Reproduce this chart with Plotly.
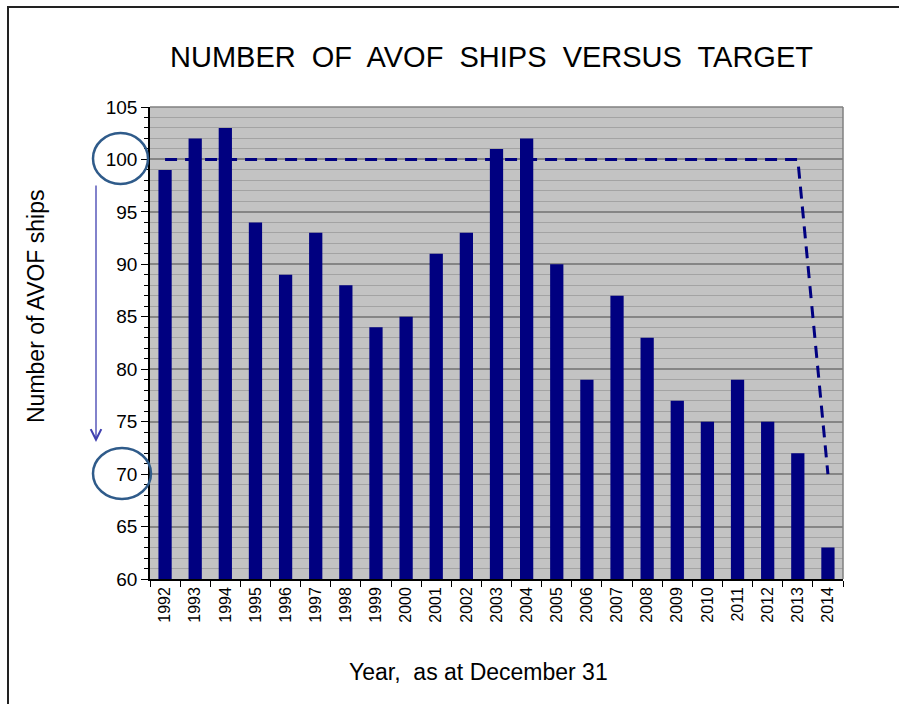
import plotly.graph_objects as go

years = [str(y) for y in range(1992, 2015)]
ships = [99, 102, 103, 94, 89, 93, 88, 84, 85, 91, 93, 101, 102, 90, 79, 87, 83, 77, 75, 79, 75, 72, 63]
target = [100] * 22 + [70]

W, H = 899, 704
L, R, T, B = 150, 843, 107, 579


def px(x):
    return (x - L) / (R - L)


def py(y):
    return (B - y) / (B - T)


fig = go.Figure()
fig.add_trace(go.Bar(x=years, y=ships, marker=dict(color="#000080", line=dict(width=0)),
                     showlegend=False, hoverinfo="x+y"))
fig.add_trace(go.Scatter(x=years, y=target, mode="lines",
                         line=dict(color="#000080", width=3, dash="12px,8px"),
                         showlegend=False))

font = "Liberation Sans, Arial, sans-serif"
fig.update_layout(
    width=W, height=H,
    margin=dict(l=L, r=W - R, t=T, b=H - B),
    paper_bgcolor="white",
    plot_bgcolor="#c3c3c3",
    bargap=0.56,
    font=dict(family=font, color="black"),
    title=dict(text="NUMBER  OF  AVOF  SHIPS  VERSUS  TARGET".replace("  ", "\u00a0 "),
               x=491.5 / W, xanchor="center", y=1 - 57 / H, yanchor="middle",
               font=dict(size=29, family=font, color="black")),
    xaxis=dict(type="category", showgrid=False, showline=True, linecolor="black", linewidth=1.5,
               ticks="outside", ticklen=6, tickcolor="black", tickson="boundaries",
               tickangle=-90, tickfont=dict(size=16, family=font, color="black"),
               zeroline=False),
    yaxis=dict(range=[60, 105], dtick=5, tick0=60, showline=True, linecolor="black", linewidth=1.5,
               ticks="outside", ticklen=7, tickcolor="black",
               tickfont=dict(size=19, family=font, color="black"),
               showgrid=True, gridcolor="#858585", gridwidth=1.5, zeroline=False,
               minor=dict(dtick=1, ticks="outside", ticklen=4, tickcolor="black",
                          showgrid=True, gridcolor="#a3a3a3", gridwidth=1)),
)

# plot-area border on top and right
fig.add_shape(type="line", xref="paper", yref="paper", x0=0, x1=1, y0=1, y1=1,
              line=dict(color="#808080", width=1.5))
fig.add_shape(type="line", xref="paper", yref="paper", x0=1, x1=1, y0=0, y1=1,
              line=dict(color="#808080", width=1.5))

# outer frame (top and left edges visible)
fig.add_shape(type="line", xref="paper", yref="paper",
              x0=px(7), x1=px(930), y0=py(7), y1=py(7),
              line=dict(color="#222222", width=2))
fig.add_shape(type="line", xref="paper", yref="paper",
              x0=px(8), x1=px(8), y0=py(6), y1=py(740),
              line=dict(color="#222222", width=2))

# ellipses around 100 and 70
fig.add_shape(type="circle", xref="paper", yref="paper",
              x0=px(93), x1=px(148), y0=py(184), y1=py(133),
              line=dict(color="#2f5b8a", width=2.5))
fig.add_shape(type="circle", xref="paper", yref="paper",
              x0=px(93), x1=px(151), y0=py(499), y1=py(448),
              line=dict(color="#2f5b8a", width=2.5))

# downward arrow
fig.add_annotation(x=px(96), y=py(442), xref="paper", yref="paper", text="",
                   showarrow=True, axref="pixel", ayref="pixel", ax=0, ay=-258,
                   arrowhead=5, arrowsize=1.6, arrowwidth=1.3, arrowcolor="#4040b0")

# axis titles
fig.add_annotation(x=px(36), y=py(306), xref="paper", yref="paper",
                   xanchor="center", yanchor="middle",
                   text="Number of AVOF ships", textangle=-90, showarrow=False,
                   font=dict(size=23, family=font, color="black"))
fig.add_annotation(x=px(478), y=py(672), xref="paper", yref="paper",
                   xanchor="center", yanchor="middle",
                   text="Year,\u00a0 as at December 31", showarrow=False,
                   font=dict(size=23, family=font, color="black"))

fig.write_html("out.html", config={"displayModeBar": False},
               post_script="document.body.style.margin='0';document.body.style.overflow='hidden';")
